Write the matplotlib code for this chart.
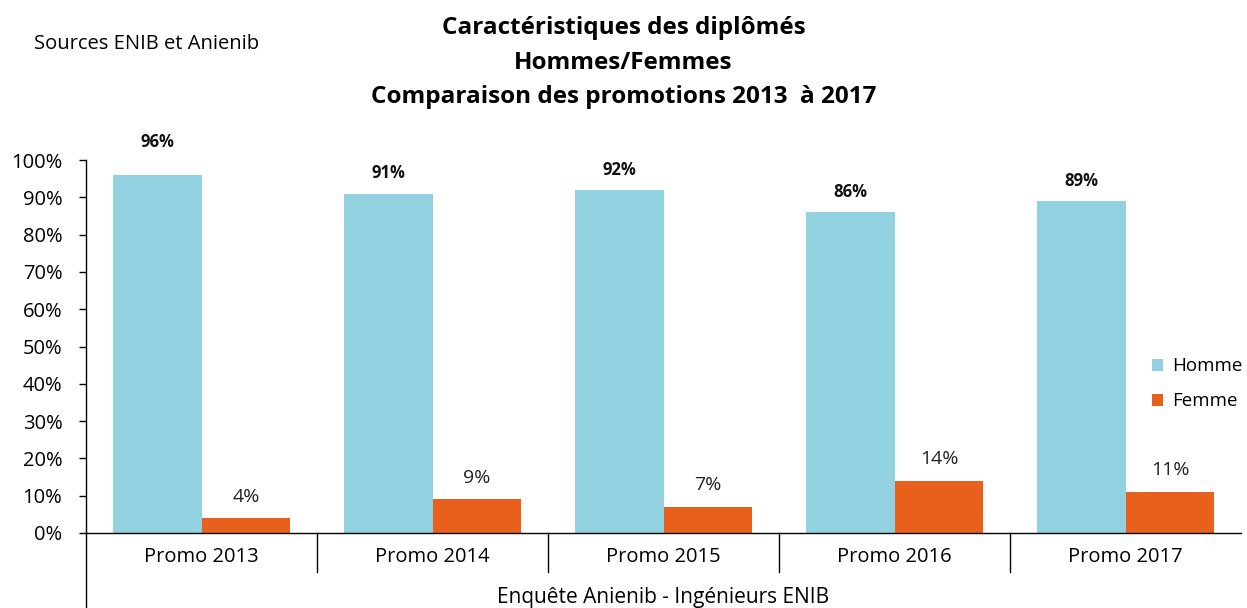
import numpy as np
import matplotlib
matplotlib.use("Agg")
import matplotlib.pyplot as plt
import matplotlib.transforms as mtransforms

promos = ["Promo 2013", "Promo 2014", "Promo 2015", "Promo 2016", "Promo 2017"]
homme = [96, 91, 92, 86, 89]
femme = [4, 9, 7, 14, 11]
outer_label = "Enquête Anienib - Ingénieurs ENIB"

plt.rcParams['font.family'] = ['Open Sans', 'DejaVu Sans']

c_homme = "#92D1DF"
c_femme = "#E8601C"

fig = plt.figure(figsize=(12.47, 6.08), dpi=100)
ax = fig.add_axes([86/1247, 75/608, 1155/1247, 373/608])

x = np.arange(len(promos))
w = 0.385
ax.bar(x - w/2, homme, w, color=c_homme, label="Homme")
ax.bar(x + w/2, femme, w, color=c_femme, label="Femme")

for xi, v in zip(x, homme):
    off = 17 if v > 95 else 8
    ax.annotate(f"{v}%", (xi - w/2, v), xytext=(0, off), textcoords="offset points",
                ha="center", va="bottom", fontsize=12, fontweight="bold", color="#111111")
for xi, v in zip(x, femme):
    ax.annotate(f"{v}%", (xi + w/2, v), xytext=(0, 9), textcoords="offset points",
                ha="center", va="bottom", fontsize=14, color="#222222")

ax.set_xlim(-0.5, len(promos) - 0.5)
ax.set_ylim(0, 100)
ax.set_yticks(range(0, 101, 10))
ax.set_yticklabels([f"{t}%" for t in range(0, 101, 10)], fontsize=14.5)
ax.tick_params(axis="y", direction="out", length=5, width=1, pad=12)
ax.set_xticks([])
for side in ("top", "right"):
    ax.spines[side].set_visible(False)
ax.spines["left"].set_linewidth(1)
ax.spines["bottom"].set_linewidth(1)

# category axis: dividers and labels
trans = mtransforms.blended_transform_factory(ax.transData, ax.transAxes)
for d in np.arange(0.5, len(promos) - 1, 1.0):
    ax.plot([d, d], [0, -39/373], transform=trans, color="black", lw=1, clip_on=False)
ax.plot([-0.5, -0.5], [0, -76/373], transform=trans, color="black", lw=1, clip_on=False)
for xi, name in zip(x, promos):
    ax.text(xi, -24/373, name, transform=trans, ha="center", va="center", fontsize=14.5)
ax.text(len(promos)/2 - 0.5, -64/373, outer_label, transform=trans, ha="center",
        va="center", fontsize=15)

ax.legend(loc="center left", bbox_to_anchor=((1152 - 86)/1155, 0.40), frameon=False,
          fontsize=13.5, handlelength=0.6, handleheight=0.6, handletextpad=0.5,
          labelspacing=0.9, borderaxespad=0, borderpad=0)

fig.text(0.5, 1 - 28/608, "Caractéristiques des diplômés", ha="center", va="center",
         fontsize=17.5, fontweight="bold")
fig.text(0.5, 1 - 63/608, "Hommes/Femmes", ha="center", va="center",
         fontsize=17.5, fontweight="bold")
fig.text(0.5, 1 - 97/608, "Comparaison des promotions 2013  à 2017", ha="center",
         va="center", fontsize=17.5, fontweight="bold")
fig.text(34/1247, 1 - 44/608, "Sources ENIB et Anienib", ha="left", va="center",
         fontsize=14.5)

fig.savefig("out.png", dpi=100)
